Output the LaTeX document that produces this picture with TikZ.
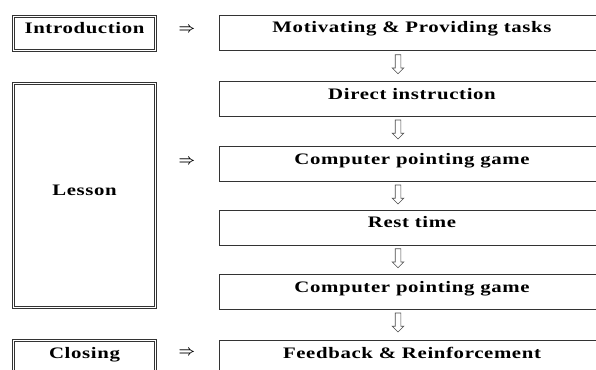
\documentclass[tikz,border=0pt]{standalone}
\usepackage{fontspec}
\setmainfont{Liberation Serif}
\newfontfamily\boxfont[LetterSpace=4,FakeStretch=1.3]{Liberation Serif}
\usetikzlibrary{shapes.arrows}

\begin{document}
\begin{tikzpicture}[x=1pt,y=-1pt,
  phase node/.style={draw=black!80,double,double distance=1.4pt,line width=0.7pt,minimum width=141.6pt,inner sep=0pt,text height=6pt,text depth=6pt,font=\boxfont\bfseries\fontsize{16}{18}\selectfont},
  task node/.style={draw=black!80,line width=0.9pt,minimum width=386pt,minimum height=34.5pt,inner sep=0pt,text height=6pt,text depth=6pt,font=\boxfont\bfseries\fontsize{16}{18}\selectfont},
  down arrow/.style={single arrow,draw=black!70,line width=0.6pt,shape border rotate=270,minimum height=19pt,minimum width=11pt,inner sep=2.5pt,single arrow head extend=3pt,anchor=north},
  implies/.style={font=\boldmath\fontsize{13.5}{16}\selectfont}]
  \useasboundingbox (0,0) rectangle (596,369);
  \fill[white] (0,0) rectangle (596,369);

  \node[phase node,minimum height=34pt] (intro) at (84.5,33.3) {Introduction};
  \node[phase node,minimum height=224pt] (lesson) at (84.5,195.5) {Lesson};
  \node[phase node,minimum height=35pt] (closing) at (84.5,358) {Closing};

  \node[task node,minimum height=35pt] (m1) at (412,32.5) {Motivating \& Providing tasks};
  \node[task node] (m2) at (412,99) {Direct instruction};
  \node[task node] (m3) at (412,164) {Computer pointing game};
  \node[task node,minimum height=35pt] (m4) at (412,227.5) {Rest time};
  \node[task node] (m5) at (412,292) {Computer pointing game};
  \node[task node] (m6) at (412,358) {Feedback \& Reinforcement};

  \node[implies] (i1) at (187,30) {$\Rightarrow$};
  \node[implies] (i2) at (187,162) {$\Rightarrow$};
  \node[implies] (i3) at (187,353) {$\Rightarrow$};

  \node[down arrow] (d1) at ([xshift=-14pt,yshift=-4pt]m1.south) {};
  \node[down arrow] (d2) at ([xshift=-14pt,yshift=-3pt]m2.south) {};
  \node[down arrow] (d3) at ([xshift=-14pt,yshift=-3pt]m3.south) {};
  \node[down arrow] (d4) at ([xshift=-14pt,yshift=-3pt]m4.south) {};
  \node[down arrow] (d5) at ([xshift=-14pt,yshift=-3pt]m5.south) {};
\end{tikzpicture}
\end{document}
